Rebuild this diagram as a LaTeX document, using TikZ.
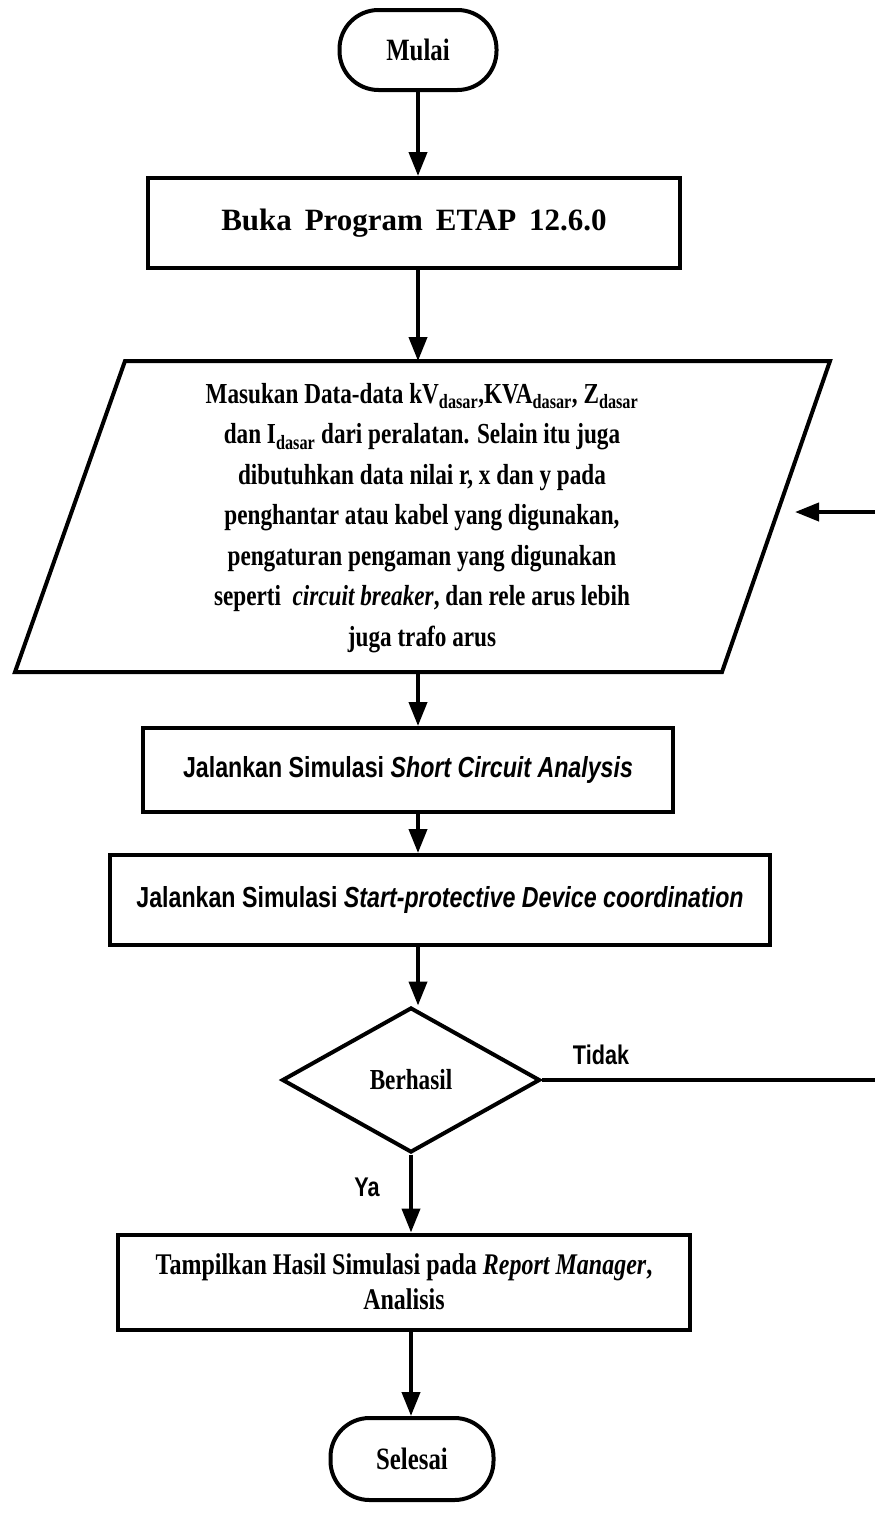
\documentclass[tikz,border=0pt]{standalone}
\usepackage{fontspec}
\setmainfont{Liberation Serif}
\newfontfamily\cserif[FakeStretch=0.8]{Liberation Serif}
\newfontfamily\csans[FakeStretch=0.8]{Liberation Sans}
\usetikzlibrary{arrows.meta,shapes.geometric}
\begin{document}
\begin{tikzpicture}[x=1pt,y=-1pt,line width=4pt,
  box/.style={draw,rectangle,inner sep=0pt,align=center},
  term/.style={draw,rectangle,rounded corners=39pt,inner sep=0pt,font=\cserif\bfseries\fontsize{31}{34}\selectfont},
  decision/.style={draw,diamond,inner sep=0pt,font=\cserif\bfseries\fontsize{29}{32}\selectfont},
  serifbox/.style={font=\cserif\bfseries\fontsize{30}{35}\selectfont},
  sansbox/.style={font=\csans\bfseries\fontsize{29}{32}\selectfont},
  lbl/.style={inner sep=0pt,font=\csans\bfseries\fontsize{27}{30}\selectfont},
  arr/.style={-{Triangle[length=24pt,width=18pt]}}
]
\useasboundingbox (0,0) rectangle (875,1515);

% nodes
\node[term,minimum width=157pt,minimum height=80pt] (mulai) at (418,50) {Mulai};
\node[box,minimum width=532pt,minimum height=90pt,font=\bfseries\fontsize{31}{34}\selectfont] (buka) at (414,223) {Buka\, Program\, ETAP\, 12.6.0};

% parallelogram (input)
\coordinate (ptl) at (125,361);
\coordinate (ptr) at (830,361);
\coordinate (pbr) at (722,672);
\coordinate (pbl) at (15,672);
\draw[line join=miter] (ptl) -- (ptr) -- (pbr) -- (pbl) -- cycle;
\node[align=center,inner sep=0pt,font=\cserif\bfseries\fontsize{29}{40.5}\selectfont] (input) at (422,518) {%
Masukan Data-data kV\textsubscript{dasar},KVA\textsubscript{dasar}, Z\textsubscript{dasar}\\
dan I\textsubscript{dasar} dari peralatan. Selain itu juga\\
dibutuhkan data nilai r, x dan y pada\\
penghantar atau kabel yang digunakan,\\
pengaturan pengaman yang digunakan\\
seperti\ \ \textit{circuit breaker}, dan rele arus lebih\\
juga trafo arus};
\coordinate (ptop) at (418,361);
\coordinate (pbot) at (418,672);
\coordinate (pin) at (795,512);

\node[box,sansbox,minimum width=530pt,minimum height=84pt] (sca) at (408,770) {Jalankan Simulasi \textit{Short Circuit Analysis}};
\node[box,sansbox,minimum width=660pt,minimum height=90pt] (pdc) at (440,900) {Jalankan Simulasi \textit{Start-protective Device coordination}};

\node[decision,minimum width=258pt,minimum height=145pt] (dec) at (411,1080) {Berhasil};
\node[lbl] (tidak) at (601,1055) {Tidak};
\node[lbl] (ya) at (367,1187) {Ya};

\node[box,serifbox,minimum width=572pt,minimum height=95pt] (hasil) at (404,1282) {Tampilkan Hasil Simulasi pada \textit{Report Manager},\\Analisis};
\node[term,minimum width=163pt,minimum height=82pt] (selesai) at (412,1459) {Selesai};

\coordinate (loop) at (910,1080);

% connectors
\draw[arr] (mulai.south) -- (mulai.south |- buka.north);
\draw[arr] (buka.south -| ptop) -- (ptop);
\draw[arr] (pbot) -- (pbot |- sca.north);
\draw[arr] (sca.south -| pbot) -- (pbot |- pdc.north);
\draw[arr] (pdc.south -| pbot) -- (pbot |- dec.north);
\draw[arr] (dec.south) -- (dec.south |- hasil.north);
\draw[arr] (hasil.south -| dec.south) -- (dec.south |- selesai.north);
\draw[arr] (dec.east) -- (loop) |- (pin);
\end{tikzpicture}
\end{document}
